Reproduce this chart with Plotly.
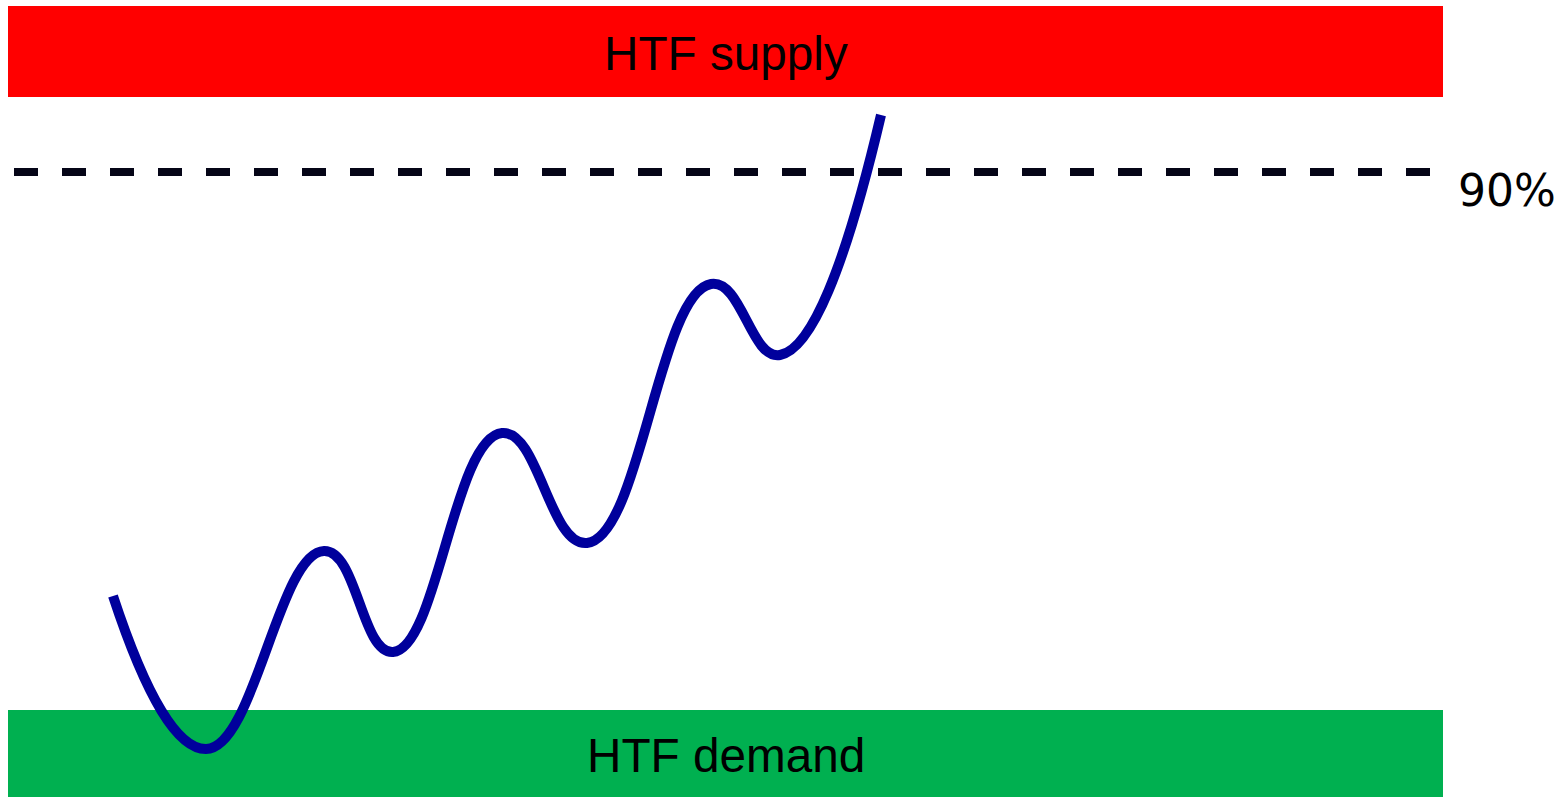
import plotly.graph_objects as go

# Price path (x position, price level): start, swing lows/highs, end
path_x = [113, 206, 324, 393, 502, 587, 711, 780, 881]
path_y = [201, 48, 246, 145, 364, 254, 513, 442, 682]

# Zones
zone_names = ["HTF supply", "HTF demand"]
zone_low = [700, 0]
zone_high = [791, 87]
zone_colors = ["#FF0000", "#00B050"]
zone_x0, zone_x1 = 8, 1443

# 90% level
level_label = "90%"
level_value = 625
level_x = [14, 1430]

fig = go.Figure()

fig.add_trace(go.Scatter(
    x=level_x, y=[level_value, level_value], mode="lines",
    line=dict(color="#050517", width=8, dash="24px,24px"),
    hoverinfo="skip", showlegend=False))

fig.add_trace(go.Scatter(
    x=path_x, y=path_y, mode="lines",
    line=dict(color="#00009C", width=10, shape="spline", smoothing=1.3),
    hoverinfo="skip", showlegend=False))

for name, lo, hi, col in zip(zone_names, zone_low, zone_high, zone_colors):
    fig.add_shape(type="rect", xref="x", yref="y", x0=zone_x0, x1=zone_x1, y0=lo, y1=hi,
                  fillcolor=col, line=dict(width=0), layer="below")
    fig.add_annotation(x=(zone_x0 + zone_x1) / 2, y=(lo + hi) / 2 - 2, text=name, showarrow=False,
                       xanchor="center", yanchor="middle",
                       font=dict(family="Liberation Sans, Arial", size=47.7, color="black"))

fig.add_annotation(x=1456, y=level_value - 18, text=level_label, showarrow=False,
                   xanchor="left", yanchor="middle",
                   font=dict(family="DejaVu Sans", size=44, color="black"))

fig.update_layout(
    width=1567, height=797, autosize=False,
    margin=dict(l=0, r=0, t=0, b=0, pad=0),
    paper_bgcolor="white", plot_bgcolor="white",
    xaxis=dict(range=[0, 1567], visible=False, fixedrange=True),
    yaxis=dict(range=[0, 797], visible=False, fixedrange=True),
    showlegend=False,
)

fig.write_html("out.html", post_script="document.body.style.margin='0';",
               config={"displayModeBar": False})
